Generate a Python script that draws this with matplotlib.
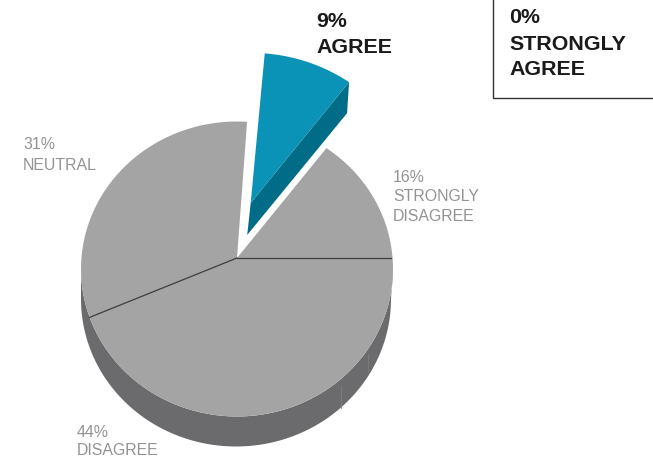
import numpy as np
import matplotlib
matplotlib.use('Agg')
import matplotlib.pyplot as plt
from matplotlib.patches import Polygon

plt.rcParams['font.family'] = ['Liberation Sans', 'DejaVu Sans']

# clockwise from 3 o'clock
categories = ['DISAGREE', 'NEUTRAL', 'AGREE', 'STRONGLY\nDISAGREE', 'STRONGLY\nAGREE']
values = [44, 31, 9, 16, 0]

GREY = '#a4a4a4'
GREY_SIDE = '#6b6b6d'
BLUE = '#0b93b7'
BLUE_SIDE = '#016c87'
TXT_GREY = '#939393'

# tilted disc, the apex sits above the centre of the ellipse
cx, cy = 237, 269
rx, ry = 156, 147.5
apex_y = 258
depth = 30


def rim(theta):
    # where a ray from the apex meets the edge, theta in degrees ccw from 3 o'clock
    t = np.radians(theta)
    # the far half of the disc is skewed a little by the perspective
    t = t - np.radians(4) * np.sin(t) - np.radians(2) * np.sin(2 * t) * (np.sin(t) > 0)
    a = (cy - apex_y) / ry
    dx, dy = np.cos(t), np.sin(t)
    s = -a * dy + np.sqrt((a * dy) ** 2 + 1 - a ** 2)
    return cx + rx * s * dx, cy - ry * (a + s * dy)


def slice_pts(start, end, apex=(cx, apex_y), scale=1.0):
    angs = np.linspace(start, end, 60)
    xs, ys = rim(angs)
    xs = apex[0] + (xs - cx) * scale
    ys = apex[1] + (ys - apex_y) * scale
    return np.vstack([[apex[0], apex[1]], np.column_stack([xs, ys])])


fig = plt.figure(figsize=(6.53, 4.57), dpi=100)
ax = fig.add_axes([0, 0, 1, 1])
ax.set_xlim(0, 653)
ax.set_ylim(457, 0)
ax.axis('off')

# side wall under the front half of the disc
phi = np.radians(np.linspace(180, 360, 120))
top = np.column_stack([cx + rx * np.cos(phi), cy - ry * np.sin(phi)])
bottom = np.column_stack([cx - 1 + (rx - 1) * np.cos(phi), cy + depth - ry * np.sin(phi)])
ax.add_patch(Polygon(np.vstack([top, bottom[::-1]]), fc=GREY_SIDE, ec='none', zorder=1))
ax.plot([341, 341], [386, 408], color='#7d7d7f', lw=0.6, zorder=2)
ax.plot([368, 368], [354, 372], color='#7d7d7f', lw=0.6, zorder=2)

# angle boundaries from the values
bounds = -np.cumsum([0] + values) * 3.6
for i, cat in enumerate(categories):
    if values[i] == 0:
        continue
    start, end = bounds[i], bounds[i + 1]
    if cat == 'AGREE':
        # pulled out of the pie, with its own cut face
        ap = (250.7, 203)
        face = slice_pts(start - 1, end, apex=ap, scale=1.1)
        corner = face[-1]
        low = np.array([ap, corner, [corner[0] - 2, corner[1] + 31], [ap[0] - 3.5, ap[1] + 32]])
        ax.add_patch(Polygon(low, fc=BLUE_SIDE, ec='none', zorder=4))
        ax.add_patch(Polygon(face, fc=BLUE, ec='none', zorder=5))
    else:
        ax.add_patch(Polygon(slice_pts(start, end), fc=GREY, ec='none', zorder=3))

# seams between the grey slices
for th in [bounds[0], bounds[1]]:
    x, y = rim(th)
    x = x - 1.5 if th == 0 else x
    ax.plot([cx, x], [apex_y, y], color='#3d3d3d', lw=0.9, zorder=4)

# 0% call-out box, open at the top and right
ax.plot([493, 493, 653], [0, 98, 98], color='#333333', lw=1.0, zorder=6)

label_x = [77, 23, 316.5, 393, 509.5]
label_y = [[437, 455], [149, 170], [27, 53], [182, 201, 221], [23, 50, 75]]
for i, cat in enumerate(categories):
    lines = [f'{values[i]}%'] + cat.split('\n')
    hot = cat in ('AGREE', 'STRONGLY\nAGREE')
    for txt, y in zip(lines, label_y[i]):
        ax.text(label_x[i], y, txt, va='baseline', ha='left',
                fontsize=15.4 if hot else 11.4,
                fontweight='bold' if hot else 'normal',
                color='#1a1a1a' if hot else TXT_GREY, zorder=7)

fig.savefig('out.png', dpi=100)
